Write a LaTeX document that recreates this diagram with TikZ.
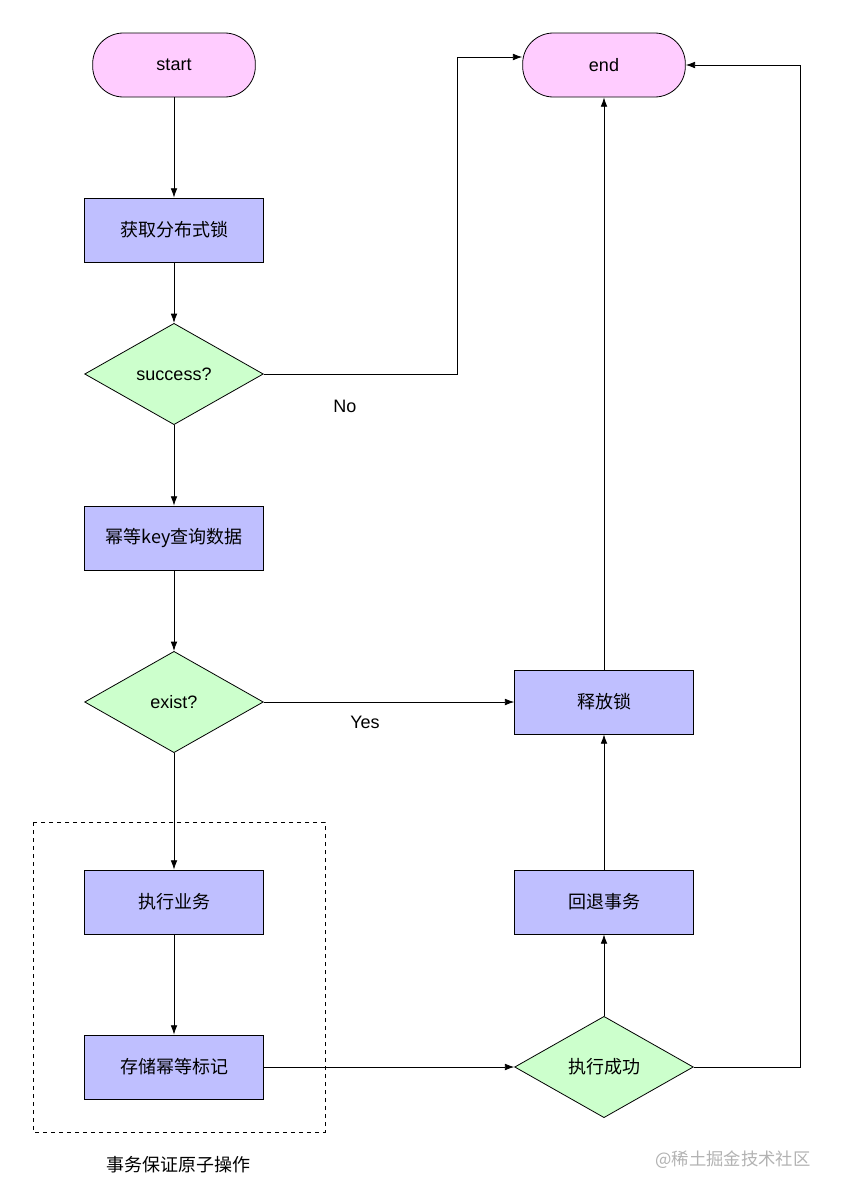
\documentclass[tikz,border=0pt]{standalone}
\usepackage{fontspec}
\setmainfont{Liberation Sans}
\newfontfamily\cjk{Noto Sans CJK SC}
\usetikzlibrary{shapes.geometric,arrows.meta}
\definecolor{pk}{HTML}{FFCCFF}
\definecolor{bl}{HTML}{BFBFFF}
\definecolor{gr}{HTML}{CCFFCC}
\begin{document}
\begin{tikzpicture}[x=0.75pt,y=-0.75pt,
  box/.style={draw,fill=bl,minimum width=134pt,minimum height=48pt,font=\cjk\fontsize{13.5}{15}\selectfont},
  dia/.style={draw,diamond,fill=gr,minimum width=134pt,minimum height=76pt,aspect=1.75,inner sep=0pt,font=\fontsize{13.5}{15}\selectfont},
  term/.style={draw,fill=pk,rounded corners=23pt,minimum width=122pt,minimum height=48pt,font=\fontsize{13.5}{15}\selectfont},
  arr/.style={-{Latex[length=7pt,width=5pt]},line width=0.6pt},
  every node/.append style={line width=0.6pt}]
\useasboundingbox (0,0) rectangle (840,1196);
\node[term] (start) at (174,65) {start};
\node[term] (end) at (604,65) {end};
\node[box] (lock) at (174,230) {获取分布式锁};
\node[dia] (succ) at (174,374) {success?};
\node[box] (query) at (174,538) {幂等key查询数据};
\node[dia] (exist) at (174,702) {exist?};
\node[box] (rel) at (604,702) {释放锁};
\node[box] (exec) at (174,902) {执行业务};
\node[box] (back) at (604,902) {回退事务};
\node[box] (store) at (174,1067) {存储幂等标记};
\node[dia,font=\cjk\fontsize{13.5}{15}\selectfont] (ok) at (604,1067) {执行成功};
\draw[dashed,line width=0.6pt] (33,822) rectangle (325,1132);
\node[font=\cjk\fontsize{13.5}{15}\selectfont] (cap) at (178,1165) {事务保证原子操作};
\node[font=\cjk\fontsize{13}{15}\selectfont,text=gray!60] (wm) at (733,1160) {@稀土掘金技术社区};
\node[font=\fontsize{13.5}{15}\selectfont] (no) at (345,406) {No};
\node[font=\fontsize{13.5}{15}\selectfont] (yes) at (365,722) {Yes};
\coordinate (c1) at (457,374);
\coordinate (c2) at (457,57);
\coordinate (c3) at (800,1067);
\coordinate (c4) at (800,65);
\draw[arr] (start) -- (lock);
\draw[arr] (lock) -- (succ);
\draw[arr] (succ) -- (query);
\draw[arr] (query) -- (exist);
\draw[arr] (exist) -- (exec);
\draw[arr] (exec) -- (store);
\draw[arr] (store) -- (ok);
\draw[arr] (ok) -- (back);
\draw[arr] (back) -- (rel);
\draw[arr] (rel) -- (end);
\draw[arr] (exist) -- (rel);
\draw[arr] (succ.east) -- (c1) -- (c2) -- (end.west |- c2);
\draw[arr] (ok.east) -- (c3) -- (c4) -- (end.east);
\end{tikzpicture}
\end{document}
